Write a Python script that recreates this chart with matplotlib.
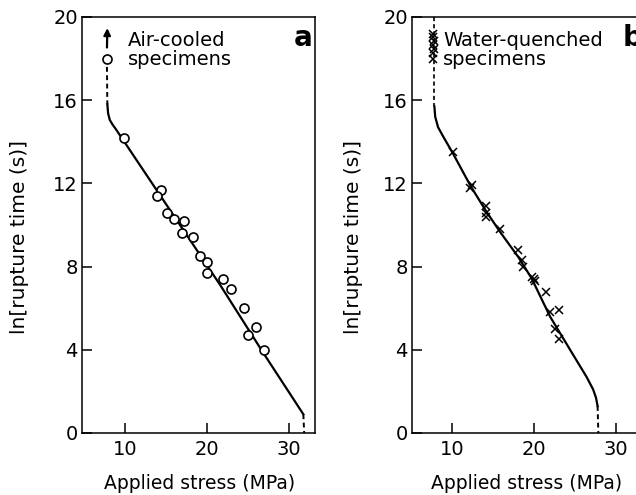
import matplotlib
matplotlib.use("Agg")
import matplotlib.pyplot as plt

plt.rcParams['font.family'] = ['DejaVu Sans']

# air-cooled specimens (open circles)
air_stress = [7.8, 9.9, 14.4, 13.9, 15.1, 16.0, 17.2, 17.0, 18.3, 19.1, 20.0, 20.0, 22.0, 22.9, 24.5, 26.0, 25.0, 27.0]
air_lnt = [18.0, 14.2, 11.7, 11.4, 10.6, 10.3, 10.2, 9.6, 9.4, 8.5, 8.2, 7.7, 7.4, 6.9, 6.0, 5.1, 4.7, 4.0]
# fitted curve, solid part and dashed ends
air_fit_x = [7.85, 7.95, 8.15, 8.45, 8.9, 21.6, 26.9, 31.75]
air_fit_y = [15.8, 15.35, 15.05, 14.85, 14.6, 7.12, 3.83, 0.9]
air_top_x = [7.8, 7.85]
air_top_y = [17.6, 15.8]
air_bot_x = [31.75, 31.85]
air_bot_y = [0.9, 0.0]

# water-quenched specimens (crosses)
wq_stress = [7.7, 7.7, 7.75, 7.7, 7.75, 7.7, 7.72, 10.1, 12.2, 12.4, 14.1, 14.2, 14.1, 15.8, 18.1, 18.5, 18.7, 19.8, 20.0, 20.1, 21.5, 21.9, 23.1, 22.6, 23.1]
wq_lnt = [18.0, 18.25, 18.45, 18.65, 18.85, 19.05, 19.2, 13.5, 11.8, 11.9, 10.9, 10.6, 10.4, 9.8, 8.8, 8.3, 8.0, 7.5, 7.4, 7.3, 6.8, 5.8, 5.9, 5.0, 4.5]
wq_fit_x = [7.85, 7.95, 8.3, 9.0, 10.1, 12.3, 14.1, 15.8, 18.1, 19.7, 21.95, 24.4, 26.4, 27.2, 27.55, 27.75]
wq_fit_y = [15.7, 15.2, 14.7, 14.2, 13.45, 11.85, 10.7, 9.7, 8.45, 7.44, 5.6, 4.0, 2.7, 2.1, 1.7, 1.3]
wq_top_x = [7.85, 7.85]
wq_top_y = [20.0, 15.7]
wq_bot_x = [27.75, 27.84]
wq_bot_y = [1.3, 0.0]

yticks = [0, 4, 8, 12, 16, 20]
xticks = [10, 20, 30]

fig = plt.figure(figsize=(6.36, 4.95), dpi=100)
w = 233 / 636
h = 416 / 495
bottom = 1 - 433 / 495
ax1 = fig.add_axes([82 / 636, bottom, w, h])
ax2 = fig.add_axes([412 / 636, bottom, w, h])

dash = (0, (2.5, 1.8))

for ax in (ax1, ax2):
    ax.set_ylim(0, 20)
    ax.set_yticks(yticks)
    ax.set_xticks(xticks)
    ax.tick_params(direction='in', length=7.5, width=1.1, labelsize=14)
    ax.tick_params(axis='y', pad=3)
    ax.tick_params(axis='x', pad=5)
    for s in ax.spines.values():
        s.set_linewidth(1.1)
    ax.set_xlabel('Applied stress (MPa)', fontsize=13.5)
    ax.set_ylabel('ln[rupture time (s)]', fontsize=14.5)

ax1.set_xlim(4.76, 33.17)
ax2.set_xlim(5.12, 33.53)

# panel a
ax1.plot(air_fit_x, air_fit_y, color='black', lw=1.6)
ax1.plot(air_top_x, air_top_y, color='black', lw=1.4, ls=dash)
ax1.plot(air_bot_x, air_bot_y, color='black', lw=1.4, ls=dash)
ax1.plot(air_stress, air_lnt, 'o', ms=6.5, mfc='white', mec='black', mew=1.2, ls='none')
ax1.annotate('', xy=(7.85, 19.6), xytext=(7.8, 18.4),
             arrowprops=dict(arrowstyle='-|>', color='black', lw=1.6, mutation_scale=10))
ax1.text(10.4, 19.35, 'Air-cooled\nspecimens', fontsize=14, va='top', ha='left', linespacing=1.0)
ax1.text(30.6, 18.6, 'a', fontsize=20, fontweight='bold', va='baseline', ha='left')

# panel b
ax2.plot(wq_fit_x, wq_fit_y, color='black', lw=1.6)
ax2.plot(wq_top_x, wq_top_y, color='black', lw=1.2, ls=dash)
ax2.plot(wq_bot_x, wq_bot_y, color='black', lw=1.4, ls=dash)
ax2.plot(wq_stress, wq_lnt, 'x', ms=5.5, mec='black', mew=1.1, ls='none')
ax2.text(8.95, 19.35, 'Water-quenched\nspecimens', fontsize=14, va='top', ha='left', linespacing=1.0)
ax2.text(30.8, 18.6, 'b', fontsize=20, fontweight='bold', va='baseline', ha='left')

ax1.xaxis.set_label_coords(0.506, -0.098)
ax2.xaxis.set_label_coords(0.49, -0.098)
ax1.yaxis.set_label_coords(-0.227, 0.47)
ax2.yaxis.set_label_coords(-0.21, 0.47)

fig.savefig('out.png', dpi=100)
